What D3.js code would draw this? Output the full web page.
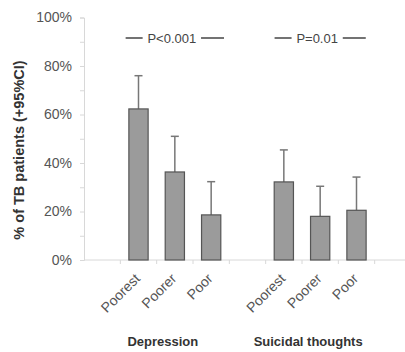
<!DOCTYPE html>
<html>
<head>
<meta charset="utf-8">
<script src="https://cdn.jsdelivr.net/npm/d3@7"></script>
<style>
  body { margin: 0; background: #fff; }
  text { font-family: "Liberation Sans", Arial, sans-serif; }
</style>
</head>
<body>
<svg id="chart" width="405" height="352"></svg>
<script>
// data
var groups = ["Depression", "Suicidal thoughts"]
var levels = ["Poorest", "Poorer", "Poor"]
var values = [[62.3, 36.3, 18.6], [32.2, 18.0, 20.5]]
var upper = [[76, 51, 32.3], [45.4, 30.4, 34.2]]
var pLabels = ["P<0.001", "P=0.01"]
var yTicks = [0, 20, 40, 60, 80, 100]

var dimensions = {
    width: 405,
    height: 352,
    margin: { top: 17.5, bottom: 92, left: 84, right: -6 }
}

var svg = d3.select("#chart")

// slots: blank, 3 bars, blank, 3 bars, blank
var slots = ["gap0"]
groups.forEach(function(g, gi) {
    levels.forEach(function(l) { slots.push(g + "|" + l) })
    slots.push("gap" + (gi + 1))
})

var xScale = d3.scaleBand()
    .domain(slots)
    .range([dimensions.margin.left, dimensions.width - dimensions.margin.right])
    .paddingInner(0.47)
    .paddingOuter(0.235)

var step = xScale.step()
var slotStart = function(k) { return xScale(k) - step * 0.235 }

var yScale = d3.scaleLinear()
    .domain([0, 100])
    .range([dimensions.height - dimensions.margin.bottom, dimensions.margin.top])

var y0 = yScale(0)

// y axis
var yAxis = d3.axisLeft(yScale)
    .tickValues(d3.range(0, 101, 10))
    .tickSize(4)
    .tickFormat(function(d) { return yTicks.indexOf(d) >= 0 ? d + "%" : "" })

var yg = svg.append("g")
    .attr("transform", "translate(" + dimensions.margin.left + ",0)")
    .call(yAxis)
yg.select(".domain").attr("stroke", "#d8d8d8")
yg.selectAll(".tick line").attr("stroke", "#d8d8d8")
yg.selectAll(".tick text")
    .attr("x", -12)
    .attr("fill", "#555")
    .style("font-size", "14px")

// x axis line and slot ticks
svg.append("line")
    .attr("x1", dimensions.margin.left)
    .attr("x2", dimensions.width)
    .attr("y1", y0).attr("y2", y0)
    .attr("stroke", "#d8d8d8")

svg.append("g").selectAll("line")
    .data(slots.slice(1))
    .enter().append("line")
    .attr("x1", d => slotStart(d))
    .attr("x2", d => slotStart(d))
    .attr("y1", y0).attr("y2", y0 + 4)
    .attr("stroke", "#d8d8d8")

// bars data
var rows = []
groups.forEach(function(g, gi) {
    levels.forEach(function(l, li) {
        rows.push({ key: g + "|" + l, level: l, v: values[gi][li], hi: upper[gi][li] })
    })
})

// error bars
var err = svg.append("g").attr("stroke", "#777").attr("stroke-width", 1.5)
err.selectAll(".stem").data(rows).enter().append("line")
    .attr("x1", d => xScale(d.key) + xScale.bandwidth() / 2)
    .attr("x2", d => xScale(d.key) + xScale.bandwidth() / 2)
    .attr("y1", d => yScale(d.v))
    .attr("y2", d => yScale(d.hi))
err.selectAll(".cap").data(rows).enter().append("line")
    .attr("x1", d => xScale(d.key) + xScale.bandwidth() / 2 - 4)
    .attr("x2", d => xScale(d.key) + xScale.bandwidth() / 2 + 4)
    .attr("y1", d => yScale(d.hi))
    .attr("y2", d => yScale(d.hi))

svg.append("g").selectAll("rect")
    .data(rows)
    .enter().append("rect")
    .attr("x", d => xScale(d.key))
    .attr("y", d => yScale(d.v))
    .attr("width", xScale.bandwidth())
    .attr("height", d => y0 - yScale(d.v))
    .attr("fill", "#9b9b9b")
    .attr("stroke", "#555")
    .attr("stroke-width", 1.2)

// category labels, rotated
svg.append("g").selectAll("text")
    .data(rows)
    .enter().append("text")
    .attr("transform", d => "translate(" + (xScale(d.key) + xScale.bandwidth() / 2 - 1) + "," + (y0 + 16) + ") rotate(-45)")
    .attr("text-anchor", "end")
    .attr("dy", "0.35em")
    .attr("fill", "#555")
    .style("font-size", "14px")
    .text(d => d.level)

// group labels
groups.forEach(function(g, gi) {
    var mid = xScale(g + "|" + levels[1]) + xScale.bandwidth() / 2
    svg.append("text")
        .attr("x", mid - 12)
        .attr("y", 346)
        .attr("text-anchor", "middle")
        .attr("fill", "#333")
        .style("font-size", "13px")
        .style("font-weight", "bold")
        .text(g)

    // p value with dashes
    var py = 38
    svg.append("text")
        .attr("x", mid - 3)
        .attr("y", py)
        .attr("dy", "0.35em")
        .attr("text-anchor", "middle")
        .attr("fill", "#444")
        .style("font-size", "13px")
        .text(pLabels[gi])
    var half = pLabels[gi].length * 3.6 + 4
    svg.append("line")
        .attr("x1", mid - 3 - half - 17).attr("x2", mid - 3 - half)
        .attr("y1", py).attr("y2", py)
        .attr("stroke", "#444").attr("stroke-width", 1.5)
    svg.append("line")
        .attr("x1", mid - 3 + half).attr("x2", mid - 3 + half + 23)
        .attr("y1", py).attr("y2", py)
        .attr("stroke", "#444").attr("stroke-width", 1.5)
})

// y axis title
svg.append("text")
    .attr("transform", "rotate(-90)")
    .attr("x", -150)
    .attr("y", 24)
    .attr("text-anchor", "middle")
    .attr("fill", "#333")
    .style("font-size", "14.5px")
    .style("font-weight", "bold")
    .text("% of TB patients (+95%CI)")
</script>
</body>
</html>
